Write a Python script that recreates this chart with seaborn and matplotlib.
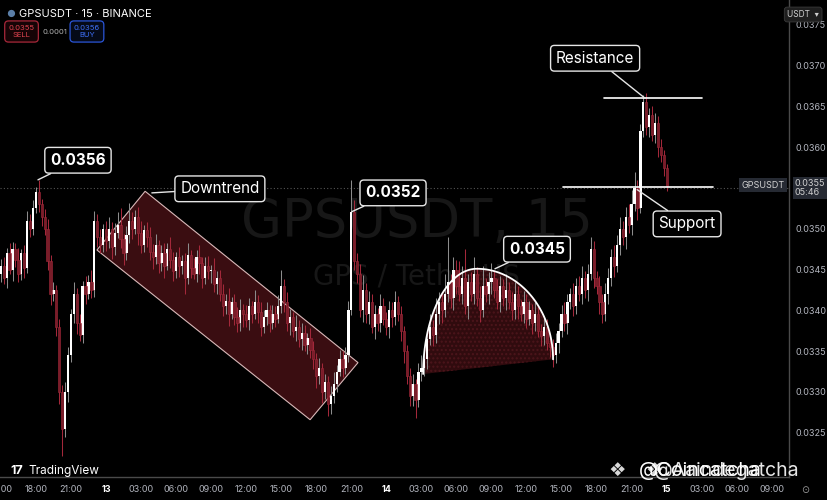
import numpy as np
import pandas as pd
import matplotlib
matplotlib.use("Agg")
import matplotlib.pyplot as plt
from matplotlib.patches import Polygon
import seaborn as sns

# GPSUSDT 15m candles, from the 12th 15:00 to the 15th 00:00
# prices in units of 0.00001 USDT, open = previous close
first_open = 3445
close_px = [
    3455, 3440, 3470, 3450, 3475, 3462, 3445, 3470, 3452, 3510, 3500, 3525,
    3545, 3530, 3515, 3500, 3460, 3420, 3425, 3380, 3300, 3255, 3300, 3345,
    3395, 3420, 3385, 3370, 3430, 3420, 3435, 3425, 3510, 3490, 3480, 3500,
    # downtrend channel
    3485, 3500, 3478, 3495, 3505, 3488, 3470, 3492, 3510, 3500, 3515, 3495, 3480, 3498, 3490, 3472,
    3465, 3480, 3458, 3470, 3455, 3475, 3462, 3448, 3466, 3455,
    3460, 3440, 3468, 3452, 3445, 3465, 3458, 3440, 3455, 3448, 3450, 3432, 3440,
    3420, 3405, 3412, 3395, 3410, 3392, 3385,
    3400, 3395, 3388, 3405, 3395, 3410, 3398, 3380, 3392, 3400, 3385, 3395, 3390, 3405,
    3430,
    3410, 3385, 3392, 3375, 3380, 3365, 3372, 3358, 3366, 3352,
    3340, 3320, 3330, 3300, 3312, 3285, 3295,
    3310, 3325, 3340, 3330, 3345,
    # breakout to 0.0352 and pullback
    3400, 3520, 3460, 3445, 3400, 3425, 3395, 3410, 3380, 3395, 3385, 3405, 3390,
    3380, 3400, 3392, 3410, 3395, 3375, 3350, 3320, 3295, 3310, 3290, 3325, 3330,
    # rounded top
    3340, 3365, 3380, 3370, 3395, 3410, 3400, 3420, 3435, 3415, 3450, 3430, 3420,
    3440, 3405, 3435, 3420, 3445, 3415, 3400, 3430, 3420, 3435, 3440, 3425, 3410,
    3430, 3415, 3425, 3410, 3400, 3420, 3405, 3395, 3410, 3390, 3400, 3385, 3395,
    3375, 3368, 3380, 3360, 3355, 3345, 3360,
    # rally to resistance
    3375, 3395, 3385, 3410, 3420, 3405, 3430, 3420, 3440, 3425, 3445, 3475, 3440,
    3430, 3410, 3395, 3420, 3440, 3465, 3455, 3480, 3500, 3490, 3515, 3505, 3530,
    3550, 3525, 3620, 3655, 3625, 3640, 3615, 3630, 3600, 3590, 3575, 3552,
]
wick_up = [
    8, 10, 6, 12, 9, 7, 14, 5, 10, 12, 8, 10, 6, 15, 6, 9, 12, 8, 10, 6, 9, 8, 12, 10,
    7, 15, 8, 10, 6, 12, 8, 14, 12, 8, 10, 6,
    10, 14, 8, 12, 15, 20, 6, 12, 22, 10, 8, 12, 15, 7, 10, 12,
    9, 14, 6, 10, 12, 8, 15, 10, 6, 12,
    8, 10, 14, 6, 12, 9, 15, 8, 10, 12, 6, 14, 8,
    10, 12, 8, 15, 6, 10, 12,
    14, 8, 12, 10, 6, 15, 9, 12, 8, 10, 6, 12, 10, 14,
    20,
    8, 12, 10, 6, 14, 8, 12, 10, 6, 12,
    10, 8, 12, 6, 10, 8, 12,
    14, 8, 12, 10, 10,
    12, 40, 15, 10, 12, 18, 8, 14, 10, 12, 8, 15, 10, 8, 12, 10, 14, 8, 10, 6,
    8, 10, 12, 6, 10, 15,
    12, 10, 15, 8, 20, 12, 10, 25, 55, 10, 15, 12, 30, 14, 35, 10, 12, 20, 8, 15,
    25, 10, 12, 18, 10, 14, 12, 8, 20, 10, 12, 15, 10, 8, 14, 10, 12, 8, 15, 10,
    8, 12, 10, 6, 10, 12,
    10, 12, 15, 10, 8, 14, 10, 12, 15, 8, 12, 15, 10, 8, 12, 10, 14, 12, 10, 15,
    12, 14, 10, 12, 15, 18, 20, 10, 8, 9, 12, 8, 10, 12, 8, 10, 6, 5,
]
wick_dn = [
    10, 8, 12, 6, 14, 9, 10, 8, 12, 6, 10, 8, 6, 10, 12, 8, 10, 14, 8, 12, 15, 33, 10, 12,
    8, 10, 14, 8, 10, 12, 6, 10, 8, 12, 10, 8,
    12, 8, 15, 10, 6, 12, 14, 8, 10, 12, 6, 15, 10, 8, 12, 10,
    14, 8, 12, 10, 15, 6, 10, 12, 8, 14,
    10, 20, 8, 12, 6, 10, 14, 12, 8, 10, 15, 10, 12,
    8, 12, 10, 14, 6, 10, 12,
    10, 15, 8, 12, 10, 6, 14, 12, 8, 10, 12, 8, 10, 6,
    8,
    12, 10, 15, 8, 12, 10, 14, 8, 12, 10,
    12, 15, 10, 14, 8, 15, 12,
    8, 10, 6, 12, 8,
    8, 6, 10, 12, 8, 14, 10, 12, 8, 15, 10, 12, 8, 10, 14, 12, 10, 8, 12, 15,
    10, 12, 12, 22, 8, 12,
    10, 12, 8, 14, 10, 12, 15, 8, 10, 12, 14, 10, 8, 12, 10, 15, 8, 12, 10, 14,
    8, 10, 12, 15, 10, 8, 12, 10, 14, 8, 12, 10, 15, 8, 10, 12, 8, 14, 10, 8,
    12, 10, 8, 12, 14, 10,
    12, 8, 10, 14, 8, 12, 10, 8, 12, 10, 14, 8, 12, 10, 15, 10, 8, 12, 10, 14,
    8, 12, 10, 15, 10, 12, 8, 14, 6, 8, 10, 12, 8, 10, 12, 8, 10, 6,
]

price_ticks = [0.0325, 0.0330, 0.0335, 0.0340, 0.0345, 0.0350, 0.0360, 0.0365, 0.0370, 0.0375]
last_price = 0.0355
time_labels = ["15:00", "18:00", "21:00", "13", "03:00", "06:00", "09:00", "12:00",
               "15:00", "18:00", "21:00", "14", "03:00", "06:00", "09:00", "12:00",
               "15:00", "18:00", "21:00", "15", "03:00", "06:00", "09:00"]
day_labels = ["13", "14", "15"]

# drawings (candle index, price)
channel_i = [49.4, 122.3, 105.9, 32.9]
channel_p = [0.03546, 0.03336, 0.03266, 0.03474]
dome_i = [144.6, 163.0, 189.1]
dome_p = [0.03322, 0.03451, 0.03340]
resist_i = [206.5, 240.1]
resist_p = 0.0366
support_i = [192.5, 243.9]
support_p = 0.03551

callouts = [
    # text, target (i, p), box centre (i, p), bold
    ("0.0356", (12.7, 0.03560), (26.4, 0.03584), True),
    ("Downtrend", (51.7, 0.03544), (75.0, 0.03549), False),
    ("0.0352", (120.2, 0.03521), (134.3, 0.03544), True),
    ("0.0345", (169.2, 0.03451), (183.6, 0.03475), True),
    ("Resistance", (220.6, 0.03660), (203.5, 0.03709), False),
    ("Support", (217.9, 0.03548), (235.0, 0.03506), False),
]

sns.set_theme(style="dark", rc={"axes.facecolor": "black", "figure.facecolor": "black"})
plt.rcParams["font.family"] = ["Inter", "DejaVu Sans"]

df = pd.DataFrame({"close": np.array(close_px) * 1e-5})
df["open"] = np.concatenate([[first_open * 1e-5], df["close"].values[:-1]])
df["high"] = df[["open", "close"]].max(axis=1) + np.array(wick_up) * 1e-5
df["low"] = df[["open", "close"]].min(axis=1) - np.array(wick_dn) * 1e-5
df["idx"] = np.arange(len(df))
up = df["close"] >= df["open"]

fig = plt.figure(figsize=(8.28, 5), dpi=100)
ax = fig.add_axes([0, 0.046, 789 / 828, 0.954])
ax.set_facecolor("black")
ax.set_xlim(-0.3, 269.9)
ax.set_ylim(0.031958, 0.037804)
ax.grid(False)

# watermark
ax.text(0.528, 0.535, "GPSUSDT, 15", transform=ax.transAxes, ha="center", va="center",
        fontsize=38, color="#171717", zorder=0.2, family=["DejaVu Sans"])
ax.text(0.528, 0.421, "GPS / TetherUS", transform=ax.transAxes, ha="center", va="center",
        fontsize=20, color="#171717", zorder=0.2, family=["DejaVu Sans"])

# channel and rounded top
ax.add_patch(Polygon(list(zip(channel_i, channel_p)), closed=True, facecolor="#3a0d11",
                     edgecolor="#d9b9b9", lw=0.8, zorder=1))
th = np.linspace(0, np.pi / 2, 60)
left_x = dome_i[1] - (dome_i[1] - dome_i[0]) * np.cos(th)
left_y = dome_p[0] + (dome_p[1] - dome_p[0]) * np.sin(th)
right_x = dome_i[1] + (dome_i[2] - dome_i[1]) * np.sin(th)
right_y = dome_p[2] + (dome_p[1] - dome_p[2]) * np.cos(th)
arc_x = np.concatenate([left_x, right_x])
arc_y = np.concatenate([left_y, right_y])
ax.add_patch(Polygon(list(zip(arc_x, arc_y)), closed=True, facecolor="#300b0e",
                     edgecolor="#4c151b", hatch="....", lw=0, zorder=1))

# price line
ax.axhline(last_price, color="#555555", ls=(0, (1, 2)), lw=0.8, zorder=0.5)

# candles
wick_col = np.where(up, "#8c8c8c", "#a3283a")
ax.vlines(df["idx"], df["low"], df["high"], colors=wick_col, lw=0.75, zorder=2.5)
body = (df["close"] - df["open"]).abs().clip(lower=0.000012)
bottom = df[["open", "close"]].min(axis=1)
ax.bar(df["idx"][up], body[up], bottom=bottom[up], width=0.78, color="white", lw=0, zorder=3)
ax.bar(df["idx"][~up], body[~up], bottom=bottom[~up], width=0.78, color="#7a1d29",
       edgecolor="#a3283a", lw=0.4, zorder=3)

sns.lineplot(x=arc_x, y=arc_y, sort=False, ax=ax, color="white", lw=1.3, zorder=4)
sns.lineplot(x=resist_i, y=[resist_p] * 2, ax=ax, color="white", lw=1.2, zorder=4)
sns.lineplot(x=support_i, y=[support_p] * 2, ax=ax, color="white", lw=1.2, zorder=4)

for txt, xy, xyt, bold in callouts:
    ax.annotate(txt, xy=xy, xytext=xyt, ha="center", va="center", color="white",
                fontsize=11, fontweight="bold" if bold else "normal", zorder=6,
                bbox=dict(boxstyle="round,pad=0.35,rounding_size=0.25", fc="black",
                          ec="#e6e6e6", lw=1),
                arrowprops=dict(arrowstyle="-", color="#e6e6e6", lw=1, shrinkA=0, shrinkB=0))

# axes styling
for s in ["top", "left"]:
    ax.spines[s].set_visible(False)
for s in ["right", "bottom"]:
    ax.spines[s].set_visible(True)
    ax.spines[s].set_color("#4a4a4a")
    ax.spines[s].set_linewidth(1)
ax.yaxis.tick_right()
ax.set_yticks(price_ticks)
ax.set_yticklabels([f"{v:.4f}" for v in price_ticks])
ax.tick_params(axis="y", colors="#b2b5be", labelsize=6.5, length=0, pad=5)
ax.set_xticks(np.arange(0, 12 * len(time_labels), 12))
ax.set_xticklabels(time_labels)
ax.tick_params(axis="x", colors="#b2b5be", labelsize=6.5, length=0, pad=6)
for lab in ax.get_xticklabels():
    if lab.get_text() in day_labels:
        lab.set_color("white")
        lab.set_fontweight("bold")

# price tags on the axis
ax.annotate("0.0355\n05:46", xy=(1, last_price), xycoords=("axes fraction", "data"),
            xytext=(4, 0), textcoords="offset points", ha="left", va="center",
            fontsize=6.5, color="#d0d0d0", linespacing=1.1, annotation_clip=False,
            bbox=dict(boxstyle="square,pad=0.2", fc="#262a33", ec="none"), zorder=7)
ax.annotate("GPSUSDT", xy=(1, last_price), xycoords=("axes fraction", "data"),
            xytext=(-3, 2), textcoords="offset points", ha="right", va="center",
            fontsize=6.5, color="#d0d0d0",
            bbox=dict(boxstyle="square,pad=0.25", fc="#262a33", ec="none"), zorder=7)

# header and overlays
fig.text(0.008, 0.972, "●", color="#5b7fa8", fontsize=7, va="center")
fig.text(0.023, 0.972, "GPSUSDT · 15 · BINANCE", color="white", fontsize=8, va="center")
fig.text(0.026, 0.937, "0.0355\nSELL", color="#e0434f", fontsize=5.5, ha="center", va="center",
         linespacing=1.3, bbox=dict(boxstyle="round,pad=0.5", fc="#160406", ec="#a8283a", lw=0.9))
fig.text(0.066, 0.937, "0.0001", color="#b0b0b0", fontsize=5.5, ha="center", va="center")
fig.text(0.105, 0.937, "0.0356\nBUY", color="#3d6ef5", fontsize=5.5, ha="center", va="center",
         linespacing=1.3, bbox=dict(boxstyle="round,pad=0.5", fc="#050a18", ec="#2a55d8", lw=0.9))
fig.text(0.97, 0.971, "USDT  ▾", color="#d0d0d0", fontsize=6, ha="center", va="center",
         bbox=dict(boxstyle="round,pad=0.35", fc="#1e1e1e", ec="#3a3a3a", lw=0.6))
fig.text(0.012, 0.058, "17", color="white", fontsize=9, fontweight="bold", va="center")
fig.text(0.034, 0.058, "TradingView", color="white", fontsize=8.5, va="center")
fig.text(0.745, 0.06, "❖", color="#d8d8d8", fontsize=14, ha="center", va="center",
         family=["DejaVu Sans"])
fig.text(0.79, 0.06, "❖", color="#d8d8d8", fontsize=14, ha="center", va="center",
         family=["DejaVu Sans"])
# two overlapping channel tags, as in the source screenshot
fig.text(0.772, 0.058, "@Coincatcha", color="white", fontsize=14, va="center")
fig.text(0.79, 0.058, "@Aaindegatcha", color="white", fontsize=14, va="center", alpha=0.9)
fig.text(0.973, 0.02, "⊙", color="#9a9a9a", fontsize=7, ha="center", va="center",
         family=["DejaVu Sans"])

fig.savefig("out.png", dpi=100, facecolor="black")
